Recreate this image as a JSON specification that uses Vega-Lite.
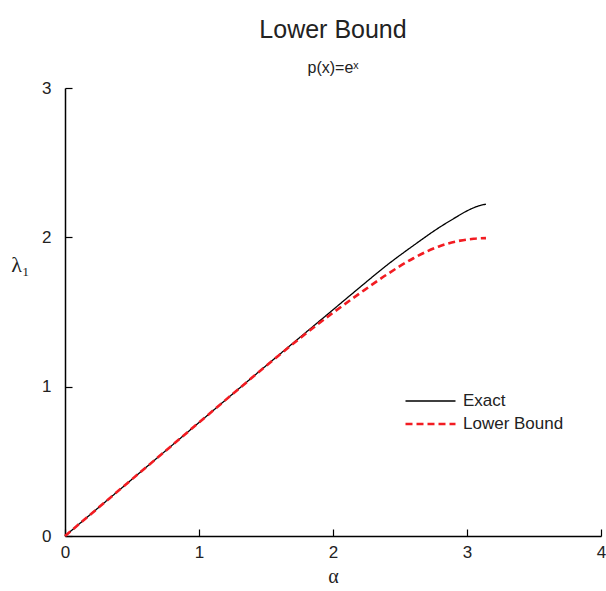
{
  "$schema": "https://vega.github.io/schema/vega-lite/v6.json",
  "autosize": "none",
  "padding": {"left": 65, "top": 88, "right": 5, "bottom": 55},
  "width": 536,
  "height": 448,
  "background": "white",
  "title": {
    "text": "Lower Bound",
    "subtitle": "p(x)=eˣ",
    "font": "Liberation Sans",
    "fontSize": 25,
    "fontWeight": "normal",
    "color": "#222",
    "subtitleFont": "Liberation Sans",
    "subtitleFontSize": 16,
    "subtitleColor": "#222",
    "subtitlePadding": 17,
    "offset": 3,
    "anchor": "middle"
  },
  "data": {
    "values": [
      {"a": 0, "v": 0, "s": "Exact"},
      {"a": 0.5, "v": 0.38, "s": "Exact"},
      {"a": 1.0, "v": 0.76, "s": "Exact"},
      {"a": 1.5, "v": 1.14, "s": "Exact"},
      {"a": 2.0, "v": 1.515, "s": "Exact"},
      {"a": 2.2, "v": 1.665, "s": "Exact"},
      {"a": 2.4, "v": 1.812, "s": "Exact"},
      {"a": 2.6, "v": 1.945, "s": "Exact"},
      {"a": 2.8, "v": 2.07, "s": "Exact"},
      {"a": 2.9, "v": 2.125, "s": "Exact"},
      {"a": 3.0, "v": 2.177, "s": "Exact"},
      {"a": 3.05, "v": 2.198, "s": "Exact"},
      {"a": 3.1, "v": 2.214, "s": "Exact"},
      {"a": 3.1416, "v": 2.222, "s": "Exact"},
      {"a": 0, "v": 0, "s": "Lower Bound"},
      {"a": 0.5, "v": 0.38, "s": "Lower Bound"},
      {"a": 1.0, "v": 0.76, "s": "Lower Bound"},
      {"a": 1.5, "v": 1.138, "s": "Lower Bound"},
      {"a": 1.75, "v": 1.322, "s": "Lower Bound"},
      {"a": 2.0, "v": 1.495, "s": "Lower Bound"},
      {"a": 2.2, "v": 1.625, "s": "Lower Bound"},
      {"a": 2.4, "v": 1.75, "s": "Lower Bound"},
      {"a": 2.6, "v": 1.86, "s": "Lower Bound"},
      {"a": 2.8, "v": 1.942, "s": "Lower Bound"},
      {"a": 2.95, "v": 1.978, "s": "Lower Bound"},
      {"a": 3.05, "v": 1.99, "s": "Lower Bound"},
      {"a": 3.1416, "v": 1.995, "s": "Lower Bound"}
    ]
  },
  "mark": {"type": "line", "interpolate": "monotone"},
  "encoding": {
    "x": {
      "field": "a",
      "type": "quantitative",
      "scale": {"domain": [0, 4], "nice": false, "zero": false},
      "axis": {
        "title": "α",
        "titleFont": "Liberation Serif",
        "titleFontSize": 20,
        "titleFontWeight": "normal",
        "titleColor": "#222",
        "titlePadding": 6,
        "values": [0, 0.5, 1, 1.5, 2, 2.5, 3, 3.5, 4],
        "format": "d",
        "labelExpr": "datum.value % 1 === 0 ? datum.label : ''",
        "labelFont": "Liberation Sans",
        "labelFontSize": 17,
        "labelColor": "#222",
        "labelPadding": 15,
        "labelFlush": false,
        "labelOverlap": false,
        "tickSize": {"condition": {"test": "datum.value % 1 === 0", "value": -7}, "value": -4},
        "tickColor": "black",
        "tickWidth": 1.2,
        "domainColor": "black",
        "domainWidth": 1.5,
        "grid": false
      }
    },
    "y": {
      "field": "v",
      "type": "quantitative",
      "scale": {"domain": [0, 3], "nice": false, "zero": false},
      "axis": {
        "title": "λ₁",
        "titleFont": "Liberation Serif",
        "titleFontSize": 22,
        "titleFontWeight": "normal",
        "titleColor": "#222",
        "titleAngle": 0,
        "titleAlign": "center",
        "titleBaseline": "middle",
        "titleX": -45,
        "titleY": 176,
        "values": [0, 0.5, 1, 1.5, 2, 2.5, 3],
        "format": "d",
        "labelExpr": "datum.value % 1 === 0 ? datum.label : ''",
        "labelFont": "Liberation Sans",
        "labelFontSize": 17,
        "labelColor": "#222",
        "labelPadding": 21,
        "labelFlush": false,
        "labelOverlap": false,
        "tickSize": {"condition": {"test": "datum.value % 1 === 0", "value": -7}, "value": -4},
        "tickColor": "black",
        "tickWidth": 1.2,
        "domainColor": "black",
        "domainWidth": 1.5,
        "grid": false
      }
    },
    "color": {
      "field": "s",
      "type": "nominal",
      "scale": {"domain": ["Exact", "Lower Bound"], "range": ["#000000", "#f21c22"]},
      "legend": {
        "title": null,
        "orient": "none",
        "legendX": 339,
        "legendY": 304,
        "symbolType": "stroke",
        "symbolSize": 2500,
        "clipHeight": 18,
        "labelFont": "Liberation Sans",
        "labelFontSize": 17,
        "labelColor": "#222",
        "labelOffset": 6,
        "rowPadding": 5
      }
    },
    "strokeDash": {
      "field": "s",
      "type": "nominal",
      "scale": {"domain": ["Exact", "Lower Bound"], "range": [[1, 0], [7, 4]]},
      "legend": null
    },
    "strokeWidth": {
      "field": "s",
      "type": "nominal",
      "scale": {"domain": ["Exact", "Lower Bound"], "range": [1.3, 2.6]},
      "legend": null
    }
  },
  "config": {"view": {"stroke": null}}
}
